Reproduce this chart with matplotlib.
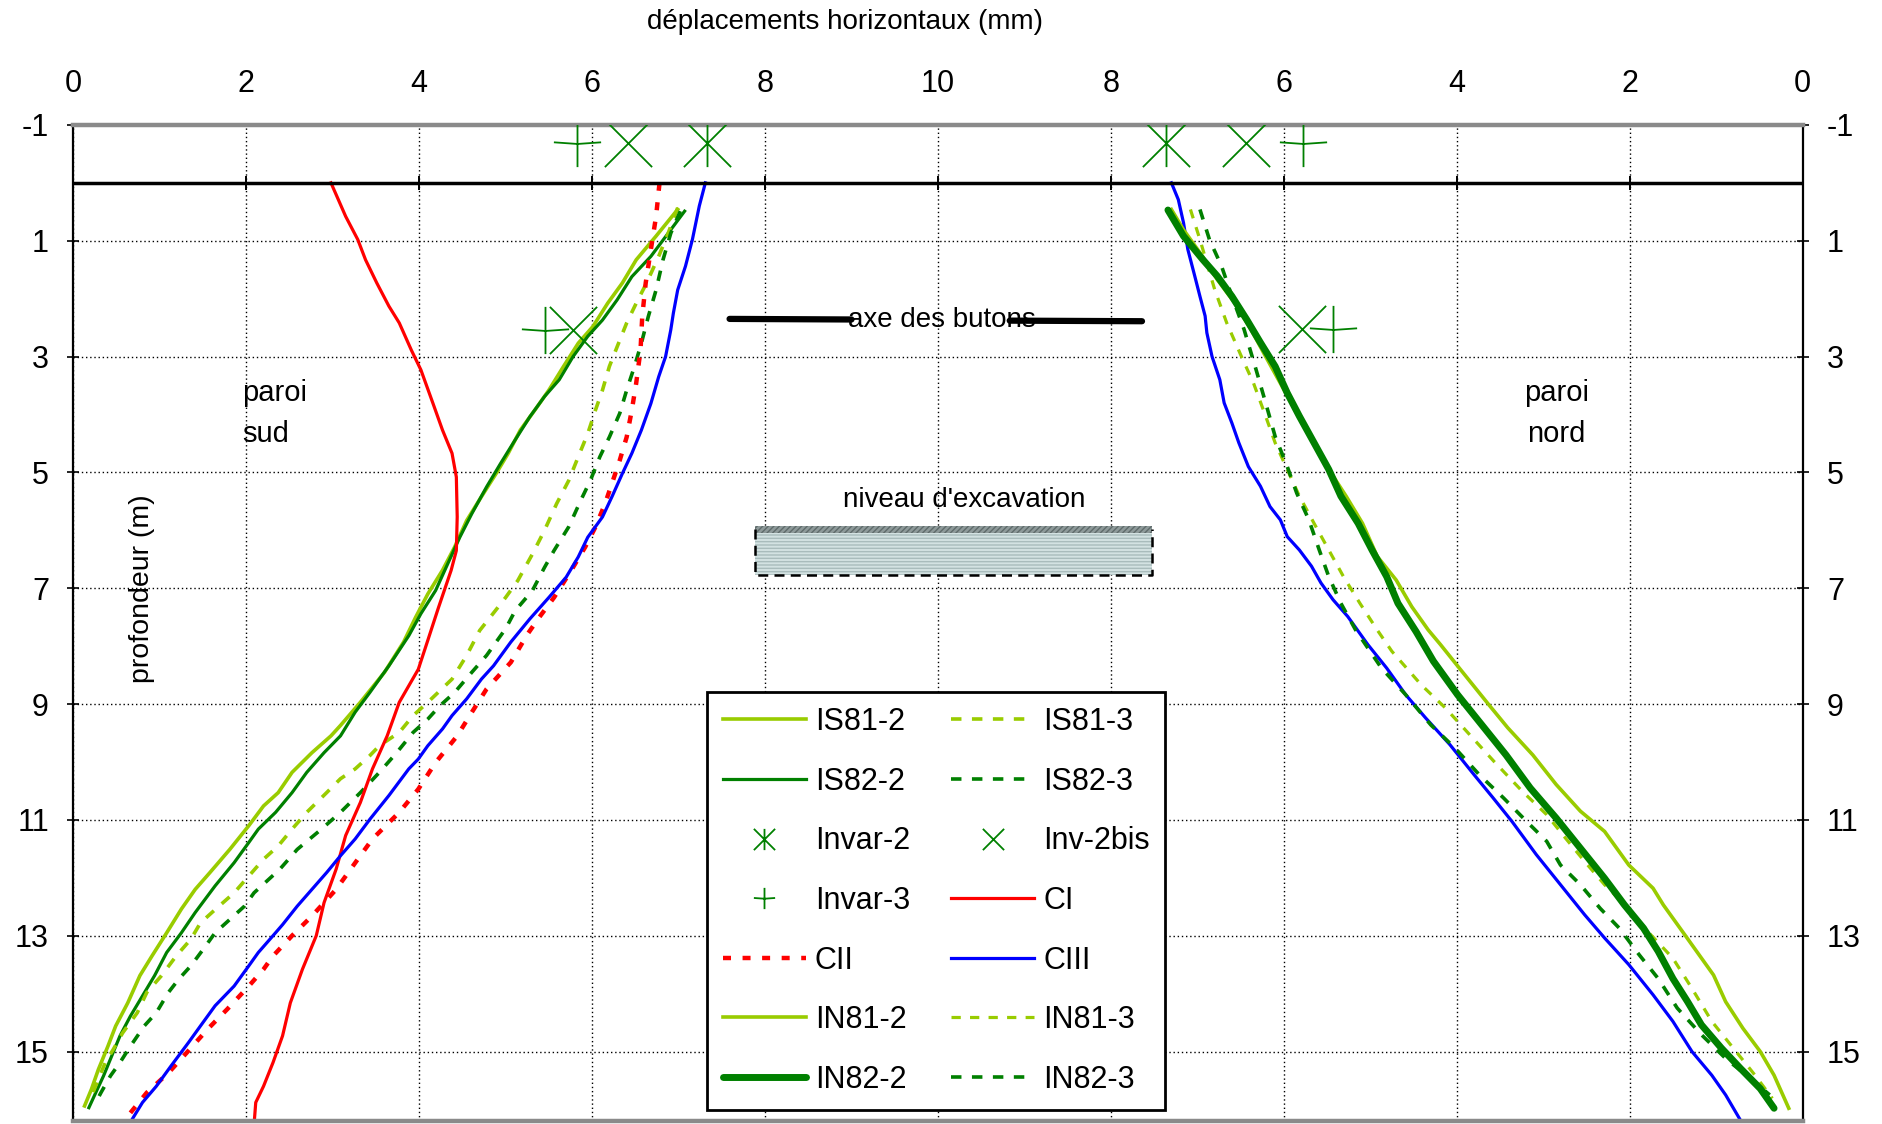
import matplotlib
matplotlib.use('Agg')
import matplotlib.pyplot as plt
from matplotlib.path import Path
from matplotlib.patches import Rectangle
import numpy as np

plt.rcParams['font.family'] = ['Liberation Sans', 'DejaVu Sans']
plt.rcParams['axes.unicode_minus'] = False

# ---------------- axis definitions ----------------
x_tick_pos = [0, 2, 4, 6, 8, 10, 12, 14, 16, 18, 20]
x_tick_labels = ['0', '2', '4', '6', '8', '10', '8', '6', '4', '2', '0']
y_ticks = [-1, 1, 3, 5, 7, 9, 11, 13, 15]
X_TOTAL = 20  # mirror: right side plotted at 20 - displacement

# ---------------- paroi sud (left side) ----------------
CI_depth = [0, 0.58, 0.98, 1.33, 1.73, 2.13, 2.42, 2.89, 3.23, 3.81, 4.27, 4.67, 5.08, 5.77, 6.35, 6.69,
            7.35, 7.9, 8.40, 8.97, 9.55, 10.12, 10.70, 11.27, 11.85, 12.43, 13.00, 13.58, 14.16, 14.73,
            15.19, 15.60, 15.88, 16.27]
CI_disp = [2.98, 3.15, 3.29, 3.38, 3.51, 3.65, 3.77, 3.91, 4.02, 4.16, 4.27, 4.38, 4.43, 4.44, 4.43, 4.37,
           4.22, 4.10, 3.99, 3.77, 3.63, 3.46, 3.32, 3.15, 3.04, 2.90, 2.81, 2.65, 2.51, 2.42,
           2.31, 2.20, 2.11, 2.09]

CII_depth = [0, 0.58, 1.15, 1.73, 2.31, 2.89, 3.46, 3.92, 4.39, 4.79, 5.19, 5.54, 5.94, 6.29, 6.69, 7.16,
             7.5, 7.8, 8.28, 8.74, 9.14, 9.55, 10.01, 10.47, 10.87, 11.33, 11.68, 12.20, 12.66, 13.00,
             13.35, 13.58, 13.87, 14.27, 14.62, 14.99, 15.37, 15.71, 16.06]
CII_disp = [6.78, 6.74, 6.68, 6.62, 6.58, 6.56, 6.51, 6.46, 6.40, 6.32, 6.23, 6.15, 6.04, 5.92, 5.76, 5.56,
            5.39, 5.25, 5.06, 4.78, 4.61, 4.44, 4.19, 3.99, 3.77, 3.46, 3.29, 3.04, 2.76, 2.53,
            2.31, 2.20, 2.03, 1.78, 1.55, 1.33, 1.10, 0.85, 0.66]

CIII_S_depth = [0, 0.40, 0.98, 1.44, 1.85, 2.25, 2.54, 2.77, 3.00, 3.35, 3.81, 4.27, 4.67, 5.02, 5.42, 5.77,
                6.12, 6.46, 6.81, 7.16, 7.53, 7.93, 8.34, 8.57, 8.91, 9.20, 9.43, 9.72, 9.95, 10.12, 10.58,
                10.99, 11.33, 11.62, 11.91, 12.20, 12.49, 12.81, 13.00, 13.29, 13.52, 13.87, 14.21, 14.56,
                14.85, 15.25, 15.60, 15.88, 16.27]
CIII_S_disp = [7.31, 7.24, 7.16, 7.08, 6.99, 6.94, 6.91, 6.88, 6.85, 6.77, 6.68, 6.57, 6.46, 6.35, 6.23, 6.12,
               5.95, 5.84, 5.70, 5.50, 5.28, 5.06, 4.86, 4.72, 4.55, 4.38, 4.27, 4.10, 3.99, 3.88, 3.65,
               3.43, 3.26, 3.09, 2.93, 2.76, 2.59, 2.42, 2.31, 2.14, 2.03, 1.86, 1.64, 1.47,
               1.33, 1.13, 0.96, 0.80, 0.64]

IS81_2_depth = [0.46, 0.92, 1.33, 1.73, 2.08, 2.48, 2.77, 3.17, 3.58, 3.92, 4.27, 4.67, 5.02, 5.42, 5.83, 6.29,
                6.69, 7.10, 7.50, 7.93, 8.45, 8.97, 9.37, 9.55, 9.84, 10.18, 10.53, 10.76, 11.10, 11.51,
                11.91, 12.20, 12.54, 12.95, 13.35, 13.69, 14.16, 14.56, 14.91, 15.31, 15.65, 15.94]
IS81_2_disp = [6.99, 6.74, 6.51, 6.35, 6.18, 6.01, 5.84, 5.67, 5.50, 5.34, 5.17, 5.03, 4.89, 4.72, 4.55, 4.41,
               4.27, 4.10, 3.96, 3.82, 3.60, 3.32, 3.09, 2.98, 2.76, 2.53, 2.37, 2.20, 2.03, 1.81,
               1.58, 1.41, 1.25, 1.08, 0.91, 0.77, 0.63, 0.49, 0.40, 0.29, 0.21, 0.13]

IS82_2_depth = [0.49, 0.81, 1.27, 1.62, 2.02, 2.37, 2.65, 3.00, 3.40, 3.69, 4.04, 4.44, 4.85, 5.25, 5.71, 6.12,
                6.58, 7.04, 7.44, 7.82, 8.34, 8.80, 9.14, 9.55, 9.84, 10.18, 10.53, 10.87, 11.16, 11.39,
                11.74, 12.14, 12.60, 12.95, 13.29, 13.69, 14.04, 14.39, 14.73, 15.02, 15.42, 15.71, 15.97]
IS82_2_disp = [7.07, 6.91, 6.68, 6.46, 6.29, 6.12, 5.95, 5.78, 5.62, 5.45, 5.28, 5.11, 4.94, 4.78, 4.61, 4.47,
               4.33, 4.19, 4.02, 3.88, 3.65, 3.43, 3.26, 3.09, 2.90, 2.70, 2.53, 2.34, 2.14, 2.03,
               1.86, 1.64, 1.41, 1.25, 1.08, 0.94, 0.80, 0.66, 0.54, 0.46, 0.35, 0.26, 0.18]

IS81_3_depth = [0.43, 0.87, 1.27, 1.73, 2.08, 2.42, 2.83, 3.17, 3.58, 3.92, 4.33, 4.73, 5.14, 5.54, 6.00, 6.41,
                6.87, 7.16, 7.39, 7.73, 8.16, 8.57, 8.97, 9.20, 9.49, 9.72, 9.89, 10.12, 10.29, 10.53, 10.87,
                11.16, 11.45, 11.68, 11.97, 12.26, 12.55, 12.78, 13.06, 13.35, 13.69, 13.98, 14.33, 14.68,
                14.97, 15.19, 15.48, 15.77]
IS81_3_disp = [6.99, 6.88, 6.77, 6.63, 6.51, 6.40, 6.29, 6.20, 6.12, 6.04, 5.95, 5.84, 5.73, 5.59, 5.45, 5.31,
               5.14, 5.00, 4.88, 4.70, 4.55, 4.38, 4.10, 3.93, 3.77, 3.54, 3.43, 3.26, 3.09, 2.93, 2.70,
               2.53, 2.37, 2.20, 2.03, 1.86, 1.64, 1.47, 1.36, 1.19, 1.02, 0.85, 0.74, 0.57,
               0.46, 0.37, 0.29, 0.21]

IS82_3_depth = [0.49, 0.87, 1.33, 1.85, 2.31, 2.77, 3.17, 3.58, 3.98, 4.39, 4.73, 5.14, 5.48, 5.94, 6.35, 6.64,
                7.04, 7.39, 7.70, 8.16, 8.45, 8.80, 9.03, 9.26, 9.49, 9.84, 10.18, 10.53, 10.87, 11.16, 11.51,
                11.85, 12.26, 12.49, 12.72, 12.95, 13.24, 13.52, 13.75, 13.98, 14.33, 14.56, 14.91, 15.19,
                15.42, 15.71, 15.88]
IS82_3_disp = [7.02, 6.91, 6.82, 6.74, 6.65, 6.57, 6.49, 6.40, 6.32, 6.20, 6.09, 5.98, 5.87, 5.73, 5.56, 5.45,
               5.31, 5.11, 5.00, 4.78, 4.61, 4.41, 4.24, 4.10, 3.93, 3.74, 3.54, 3.32, 3.09, 2.87, 2.59,
               2.39, 2.09, 1.98, 1.81, 1.64, 1.50, 1.36, 1.22, 1.10, 0.96, 0.82, 0.66, 0.54,
               0.43, 0.32, 0.26]

# ---------------- paroi nord (right side) ----------------
CIII_N_depth = [0, 0.29, 0.69, 1.15, 1.61, 1.96, 2.30, 2.59, 3.00, 3.40, 3.80, 4.15, 4.49, 4.90, 5.24, 5.59,
                5.82, 6.11, 6.34, 6.62, 6.91, 7.20, 7.49, 7.97, 8.38, 8.84, 9.24, 9.70, 10.22, 10.62, 11.03,
                11.60, 12.12, 12.64, 13.04, 13.50, 14.02, 14.48, 15.00, 15.41, 15.75, 16.26]
CIII_N_disp = [7.30, 7.22, 7.16, 7.11, 7.03, 6.97, 6.91, 6.89, 6.83, 6.74, 6.69, 6.60, 6.52, 6.41, 6.27, 6.16,
               6.04, 5.96, 5.82, 5.68, 5.57, 5.43, 5.26, 5.03, 4.81, 4.59, 4.36, 4.08, 3.80, 3.58, 3.36,
               3.08, 2.80, 2.52, 2.29, 2.01, 1.73, 1.50, 1.28, 1.05, 0.89, 0.69]

IN82_2_depth = [0.47, 0.92, 1.32, 1.61, 1.96, 2.36, 2.76, 3.17, 3.63, 4.03, 4.49, 4.95, 5.41, 5.88, 6.34, 6.80,
                7.26, 7.75, 8.26, 8.84, 9.36, 9.88, 10.45, 10.97, 11.49, 12.01, 12.47, 12.87, 13.27, 13.74,
                14.14, 14.54, 14.94, 15.29, 15.64, 15.98]
IN82_2_disp = [7.34, 7.16, 6.94, 6.77, 6.60, 6.43, 6.27, 6.10, 5.96, 5.82, 5.65, 5.48, 5.34, 5.14, 4.98, 4.81,
               4.68, 4.47, 4.27, 3.99, 3.71, 3.43, 3.15, 2.85, 2.57, 2.29, 2.06, 1.84, 1.67, 1.50,
               1.33, 1.17, 0.94, 0.72, 0.49, 0.33]

IN81_2_depth = [0.46, 0.81, 1.27, 1.67, 2.07, 2.53, 3.00, 3.46, 3.92, 4.38, 4.95, 5.41, 5.88, 6.45, 6.86, 7.32,
                7.72, 7.97, 8.38, 9.01, 9.41, 9.88, 10.39, 10.85, 11.20, 11.78, 12.18, 12.47, 12.99, 13.68,
                14.14, 14.60, 15.00, 15.41, 15.98]
IN81_2_disp = [7.30, 7.16, 6.94, 6.77, 6.57, 6.38, 6.21, 6.04, 5.87, 5.70, 5.48, 5.28, 5.09, 4.92, 4.70, 4.52,
               4.33, 4.19, 3.97, 3.63, 3.41, 3.12, 2.85, 2.57, 2.29, 2.01, 1.73, 1.61, 1.36, 1.03,
               0.89, 0.69, 0.49, 0.33, 0.16]

IN81_3_depth = [0.46, 0.98, 1.84, 2.42, 3.00, 3.46, 4.03, 4.49, 4.95, 5.41, 5.88, 6.34, 6.80, 7.26, 7.72, 8.09,
                8.67, 9.07, 9.53, 9.99, 10.51, 10.91, 11.32, 11.72, 12.12, 12.53, 12.93, 13.39, 13.91, 14.48,
                15.00, 15.41, 15.81]
IN81_3_disp = [7.08, 6.97, 6.80, 6.66, 6.49, 6.35, 6.21, 6.10, 5.96, 5.82, 5.65, 5.48, 5.31, 5.12, 4.92, 4.75,
               4.41, 4.13, 3.85, 3.57, 3.24, 2.96, 2.74, 2.52, 2.29, 2.01, 1.79, 1.50, 1.28, 1.05,
               0.77, 0.55, 0.35]

IN82_3_depth = [0.46, 0.98, 1.44, 1.96, 2.53, 3.23, 3.80, 4.38, 4.90, 5.36, 5.82, 6.34, 6.80, 7.26, 7.72, 8.38,
                8.84, 9.36, 9.76, 10.22, 10.62, 11.03, 11.37, 11.78, 12.12, 12.53, 12.87, 13.33, 13.74, 14.25,
                14.71, 15.12, 15.46, 15.75]
IN82_3_disp = [6.97, 6.86, 6.72, 6.60, 6.46, 6.32, 6.21, 6.10, 5.96, 5.85, 5.71, 5.59, 5.48, 5.34, 5.17, 4.87,
               4.59, 4.30, 4.02, 3.74, 3.46, 3.19, 2.96, 2.80, 2.57, 2.34, 2.12, 1.89, 1.67, 1.45,
               1.17, 0.89, 0.61, 0.38]

# ---------------- Invar measurements (disp, depth) ----------------
invar2_S = ([7.33], [-0.69]);      invar2_N = ([7.36], [-0.69])
inv2bis_S = ([6.41, 5.78], [-0.69, 2.55]); inv2bis_N = ([6.44, 5.79], [-0.69, 2.53])
invar3_S = ([5.82, 5.46], [-0.69, 2.55]);  invar3_N = ([5.78, 5.43], [-0.69, 2.53])

# ---------------- annotations ----------------
butons_left = ([7.59, 9.0], [2.35, 2.36])
butons_right = ([10.83, 12.36], [2.38, 2.39])
excav_x = (7.88, 12.48)
excav_depth = (5.93, 6.77)

LIME = '#99cc00'
GREEN = '#008000'
RED = '#ff0000'
BLUE = '#0000ff'
DASH = (0, (2.9, 2.9))
RDASH = (0, (1.8, 2.6))


def right(d):
    return [X_TOTAL - v for v in d]


fig = plt.figure(figsize=(18.83, 11.24), dpi=100)
ax = fig.add_axes([0.03893, 0.00267, 0.91837, 0.88621])
ax.set_xlim(0, 20)
ax.set_ylim(16.2, -1)

# grid
ax.set_xticks(x_tick_pos)
ax.set_xticklabels(x_tick_labels)
ax.set_yticks(y_ticks)
ax.grid(True, color='black', linestyle=(0, (1, 2)), linewidth=1.0)
ax.set_axisbelow(True)
ax.xaxis.tick_top()
ax.tick_params(axis='x', length=0, pad=19, labelsize=22)
ax.tick_params(axis='y', which='both', left=True, right=True, labelleft=True, labelright=True,
               direction='inout', length=9, width=1.2, labelsize=22, pad=13)

for s in ['top', 'bottom']:
    ax.spines[s].set_color('#8a8a8a')
    ax.spines[s].set_linewidth(3.2)
for s in ['left', 'right']:
    ax.spines[s].set_color('black')
    ax.spines[s].set_linewidth(1.6)

# ground line
ax.axhline(0, color='black', lw=2.5, zorder=3)
ax.plot(x_tick_pos, [0] * len(x_tick_pos), linestyle='none', marker='|', ms=10, mew=1.4,
        color='black', zorder=3)

# curves - left
h_is81_2, = ax.plot(IS81_2_disp, IS81_2_depth, color=LIME, lw=2.6, label='IS81-2')
h_is82_2, = ax.plot(IS82_2_disp, IS82_2_depth, color=GREEN, lw=2.3, label='IS82-2')
h_is81_3, = ax.plot(IS81_3_disp, IS81_3_depth, color=LIME, lw=2.6, ls=DASH, label='IS81-3')
h_is82_3, = ax.plot(IS82_3_disp, IS82_3_depth, color=GREEN, lw=2.6, ls=DASH, label='IS82-3')
h_ci, = ax.plot(CI_disp, CI_depth, color=RED, lw=2.3, label='CI')
h_cii, = ax.plot(CII_disp, CII_depth, color=RED, lw=3.2, ls=RDASH, label='CII')
h_ciii, = ax.plot(CIII_S_disp, CIII_S_depth, color=BLUE, lw=2.3, label='CIII')
# curves - right
ax.plot(right(CIII_N_disp), CIII_N_depth, color=BLUE, lw=2.3)
h_in81_2, = ax.plot(right(IN81_2_disp), IN81_2_depth, color=LIME, lw=2.6, label='IN81-2')
h_in81_3, = ax.plot(right(IN81_3_disp), IN81_3_depth, color=LIME, lw=2.3, ls=DASH, label='IN81-3')
h_in82_3, = ax.plot(right(IN82_3_disp), IN82_3_depth, color=GREEN, lw=2.6, ls=DASH, label='IN82-3')
h_in82_2, = ax.plot(right(IN82_2_disp), IN82_2_depth, color=GREEN, lw=5, label='IN82-2',
                    solid_capstyle='round')

# markers
m_invar2 = Path([(-1, -1), (1, 1), (-1, 1), (1, -1), (0, -1), (0, 1)],
                [Path.MOVETO, Path.LINETO, Path.MOVETO, Path.LINETO, Path.MOVETO, Path.LINETO])
m_x = Path([(-1, -1), (1, 1), (-1, 1), (1, -1)],
           [Path.MOVETO, Path.LINETO, Path.MOVETO, Path.LINETO])
m_plus = Path([(-1, 0.05), (0, -0.02), (1, 0.05), (0, -1), (0, 1)],
              [Path.MOVETO, Path.LINETO, Path.LINETO, Path.MOVETO, Path.LINETO])
mk = dict(linestyle='none', color=GREEN, ms=34, mew=1.3, mfc='none', zorder=4)
h_invar2, = ax.plot(invar2_S[0], invar2_S[1], marker=m_invar2, label='Invar-2', **mk)
ax.plot(right(invar2_N[0]), invar2_N[1], marker=m_invar2, **mk)
h_inv2bis, = ax.plot(inv2bis_S[0], inv2bis_S[1], marker=m_x, label='Inv-2bis', **mk)
ax.plot(right(inv2bis_N[0]), inv2bis_N[1], marker=m_x, **mk)
h_invar3, = ax.plot(invar3_S[0], invar3_S[1], marker=m_plus, label='Invar-3', **mk)
ax.plot(right(invar3_N[0]), invar3_N[1], marker=m_plus, **mk)

# axe des butons
ax.plot(*butons_left, color='black', lw=4.5, solid_capstyle='round', zorder=5)
ax.plot(*butons_right, color='black', lw=4.5, solid_capstyle='round', zorder=5)
ax.text(10.04, 2.37, 'axe des butons', fontsize=20, ha='center', va='center', zorder=6)

# niveau d'excavation
ex0, ex1 = excav_x
ed0, ed1 = excav_depth
ax.add_patch(Rectangle((ex0, ed0), ex1 - ex0, ed1 - ed0, facecolor='#d3e2e2', edgecolor='#a9bcbc',
                       hatch='-----', lw=0, zorder=4))
ax.add_patch(Rectangle((ex0, ed0), ex1 - ex0, 0.12, facecolor='#8e9a9a', edgecolor='#5f6b6b',
                       hatch='//////', lw=0, zorder=4))
ax.plot([ex0, ex0, ex1, ex1], [ed0 + 0.05, ed1, ed1, ed0 + 0.05], color='black', lw=1.8,
        ls=(0, (4, 2.5)), zorder=5)
ax.text(10.30, 5.47, "niveau d'excavation", fontsize=20, ha='center', va='center', zorder=6)

# wall labels
ax.text(1.95, 3.98, 'paroi\nsud', fontsize=21, ha='left', va='center', linespacing=1.6)
ax.text(17.15, 3.98, 'paroi\nnord', fontsize=21, ha='center', va='center', linespacing=1.6)
ax.text(0.80, 7.0, 'profondeur (m)', fontsize=20.5, rotation=90, ha='center', va='center')

# title
fig.text(845 / 1883, 1 - 22 / 1124, 'déplacements horizontaux (mm)', fontsize=20,
         ha='center', va='center')

# legend (column-major order for ncol=2)
handles = [h_is81_2, h_is82_2, h_invar2, h_invar3, h_cii, h_in81_2, h_in82_2,
           h_is81_3, h_is82_3, h_inv2bis, h_ci, h_ciii, h_in81_3, h_in82_3]
leg = ax.legend(handles=handles, labels=[h.get_label() for h in handles], ncol=2,
                loc='upper left', bbox_to_anchor=(0.3666, 0.431), borderaxespad=0,
                fontsize=22, handlelength=2.72, handletextpad=0.3, labelspacing=0.97,
                columnspacing=1.35, borderpad=0.5, markerscale=0.45, fancybox=False,
                framealpha=1, edgecolor='black')
leg.get_frame().set_linewidth(2)
leg.set_zorder(10)

fig.savefig('out.png', dpi=100)
